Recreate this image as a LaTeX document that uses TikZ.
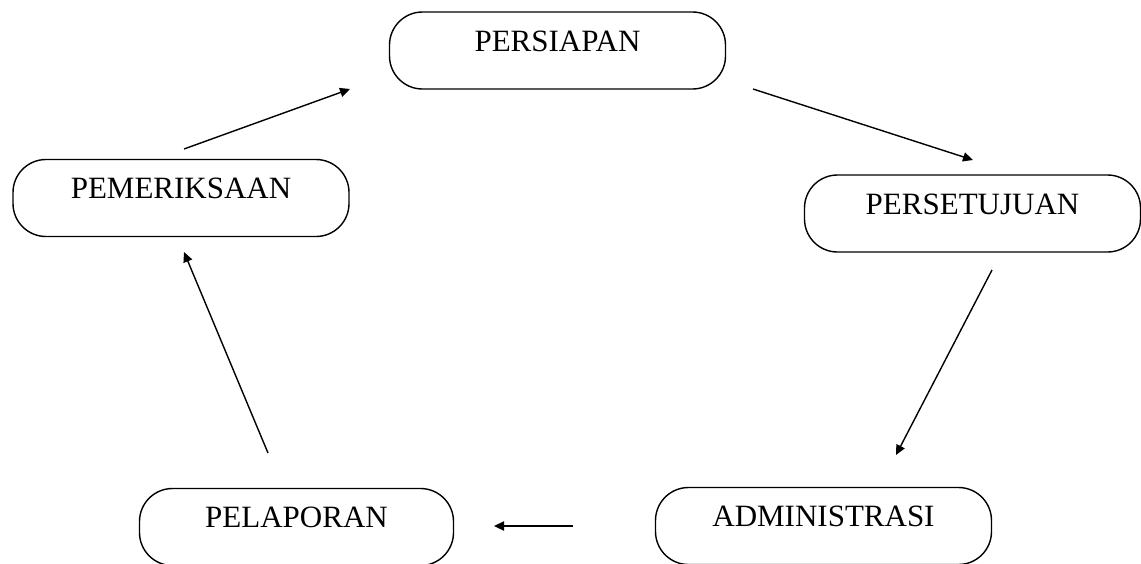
\documentclass[tikz,border=0pt]{standalone}
\usepackage{fontspec}
\setmainfont{Liberation Serif}
\usetikzlibrary{arrows.meta}

\begin{document}
\begin{tikzpicture}[
  x=0.5pt, y=-0.5pt,
  stage/.style={rectangle,rounded corners=16.5pt,draw=black,line width=0.7pt,
                minimum width=168pt,minimum height=38.5pt,
                font=\fontsize{15.5}{18}\selectfont,
                text height=10pt,text depth=9.5pt},
  arr/.style={-{Triangle[length=5pt,width=4.6pt]},line width=0.7pt}
]
  \useasboundingbox (0,0) rectangle (1141,563);

  \node[stage] (persiapan)   at (557.5,50.5)  {PERSIAPAN};
  \node[stage] (pemeriksaan) at (181,198)     {PEMERIKSAAN};
  \node[stage] (persetujuan) at (972.5,213.5) {PERSETUJUAN};
  \node[stage, minimum width=157pt] (pelaporan) at (296.5,527) {PELAPORAN};
  \node[stage] (administrasi) at (823.5,526) {ADMINISTRASI};

  % free arrow ends between the stages
  \coordinate (pem-out) at (184,149);
  \coordinate (per-in)  at (350,89);
  \coordinate (per-out) at (753,89);
  \coordinate (set-in)  at (973,160);
  \coordinate (set-out) at (992,270);
  \coordinate (adm-in)  at (896,455);
  \coordinate (adm-out) at (573,526);
  \coordinate (lap-in)  at (494,526);
  \coordinate (lap-out) at (268,453);
  \coordinate (pem-in)  at (184,252);

  \draw[arr] (pem-out) -- (per-in);
  \draw[arr] (per-out) -- (set-in);
  \draw[arr] (set-out) -- (adm-in);
  \draw[arr] (adm-out) -- (lap-in);
  \draw[arr] (lap-out) -- (pem-in);
\end{tikzpicture}
\end{document}
